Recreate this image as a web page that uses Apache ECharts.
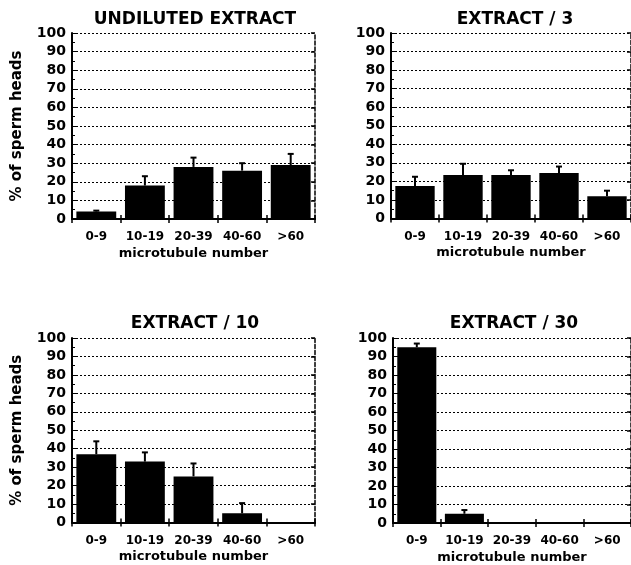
<!DOCTYPE html>
<html>
<head>
<meta charset="utf-8">
<script src="https://cdn.jsdelivr.net/npm/echarts@6/dist/echarts.min.js"></script>
<style>
html,body{margin:0;padding:0;background:#fff;}
#chart{width:631px;height:565px;}
</style>
</head>
<body>
<div id="chart"></div>
<script>
const categories = ['0-9', '10-19', '20-39', '40-60', '>60'];
const yTicks = [0, 10, 20, 30, 40, 50, 60, 70, 80, 90, 100];
const titles = ['UNDILUTED EXTRACT', 'EXTRACT / 3', 'EXTRACT / 10', 'EXTRACT / 30'];

const undilutedValues = [4, 18, 28, 26, 29];
const undilutedErrors = [0.5, 5, 5, 4, 6];
const extract3Values = [17.5, 23.5, 23.5, 24.5, 12];
const extract3Errors = [5, 6, 2.5, 3.5, 3];
const extract10Values = [37, 33, 25, 5, 0];
const extract10Errors = [7, 5, 7, 5.5, 0];
const extract30Values = [95, 5, 0, 0, 0];
const extract30Errors = [2, 2, 0, 0, 0];

const panelValues = [undilutedValues, extract3Values, extract10Values, extract30Values];
const panelErrors = [undilutedErrors, extract3Errors, extract10Errors, extract30Errors];

const FONT = 'DejaVu Sans';
const grids = [
  {left: 72, top: 33, width: 243, height: 186},
  {left: 391, top: 33, width: 241, height: 185.5},
  {left: 72, top: 338, width: 243, height: 184.5},
  {left: 393, top: 338, width: 239, height: 185}
];
const titleCenters = [[190, 6], [510, 6], [190, 310], [509, 310]];
const showYName = [true, false, true, false];

const option = {
  animation: false,
  backgroundColor: '#fff',
  title: titles.map((t, i) => ({
    text: t,
    left: titleCenters[i][0],
    top: titleCenters[i][1],
    textAlign: 'center',
    textStyle: {fontFamily: FONT, fontWeight: 'bold', fontSize: 17, color: '#000'}
  })),
  grid: grids.map(g => Object.assign({containLabel: false}, g)),
  xAxis: [],
  yAxis: [],
  series: []
};

grids.forEach((g, i) => {
  // bottom category axis
  option.xAxis.push({
    type: 'category', gridIndex: i, data: categories, position: 'bottom',
    boundaryGap: true,
    name: 'microtubule number', nameLocation: 'middle', nameGap: 28,
    nameTextStyle: {fontFamily: FONT, fontWeight: 'bold', fontSize: 13, color: '#000'},
    axisLine: {show: true, lineStyle: {color: '#000', width: 2}},
    axisTick: {show: true, inside: true, length: 4, lineStyle: {color: '#000', width: 1.5}},
    axisLabel: {interval: 0, fontFamily: FONT, fontWeight: 'bold', fontSize: 12, color: '#000', margin: 12},
    splitLine: {show: false}
  });
  // top frame axis
  option.xAxis.push({
    type: 'category', gridIndex: i, data: categories, position: 'top',
    boundaryGap: true,
    axisLine: {show: true, lineStyle: {color: '#000', width: 1.5}},
    axisTick: {show: true, inside: true, length: 4, lineStyle: {color: '#000', width: 1.5}},
    axisLabel: {show: false},
    splitLine: {show: false}
  });
  // left value axis
  option.yAxis.push({
    type: 'value', gridIndex: i, min: 0, max: 100, interval: 10, position: 'left',
    name: showYName[i] ? '% of sperm heads' : '',
    nameLocation: 'middle', nameGap: 47, nameRotate: 90,
    nameTextStyle: {fontFamily: FONT, fontWeight: 'bold', fontSize: 15, color: '#000'},
    axisLine: {show: true, lineStyle: {color: '#000', width: 2}},
    axisTick: {show: true, inside: true, length: 4, lineStyle: {color: '#000', width: 1}},
    minorTick: {show: true, splitNumber: 2, length: 3, lineStyle: {color: '#000', width: 1}},
    axisLabel: {fontFamily: FONT, fontWeight: 'bold', fontSize: 14, color: '#000', margin: 6,
      formatter: v => yTicks.indexOf(v) >= 0 ? String(v) : ''},
    splitLine: {show: true, lineStyle: {color: '#000', width: 1, type: [2, 2]}}
  });
  // right frame axis
  option.yAxis.push({
    type: 'value', gridIndex: i, min: 0, max: 100, interval: 10, position: 'right',
    axisLine: {show: true, lineStyle: {color: '#000', width: 1.5, type: [4, 2]}},
    axisTick: {show: true, inside: true, length: 4, lineStyle: {color: '#000', width: 1.5}},
    axisLabel: {show: false},
    splitLine: {show: false}
  });

  option.series.push({
    type: 'bar', xAxisIndex: i * 2, yAxisIndex: i * 2,
    data: panelValues[i],
    barCategoryGap: '18%',
    itemStyle: {color: '#000'},
    z: 3
  });
  option.series.push({
    type: 'custom', xAxisIndex: i * 2, yAxisIndex: i * 2,
    data: panelValues[i].map((v, k) => [k, v, panelErrors[i][k]]),
    encode: {x: 0, y: 1},
    z: 4,
    renderItem: function (params, api) {
      const err = api.value(2);
      if (!err) return null;
      const base = api.coord([api.value(0), api.value(1)]);
      const top = api.coord([api.value(0), api.value(1) + err]);
      const hw = 3;
      return {
        type: 'group',
        children: [
          {type: 'line', shape: {x1: base[0], y1: base[1], x2: top[0], y2: top[1]},
           style: {stroke: '#000', lineWidth: 2}},
          {type: 'line', shape: {x1: top[0] - hw, y1: top[1], x2: top[0] + hw, y2: top[1]},
           style: {stroke: '#000', lineWidth: 2}}
        ]
      };
    }
  });
});

const chart = echarts.init(document.getElementById('chart'), null, {renderer: 'canvas'});
chart.setOption(option);
</script>
</body>
</html>
